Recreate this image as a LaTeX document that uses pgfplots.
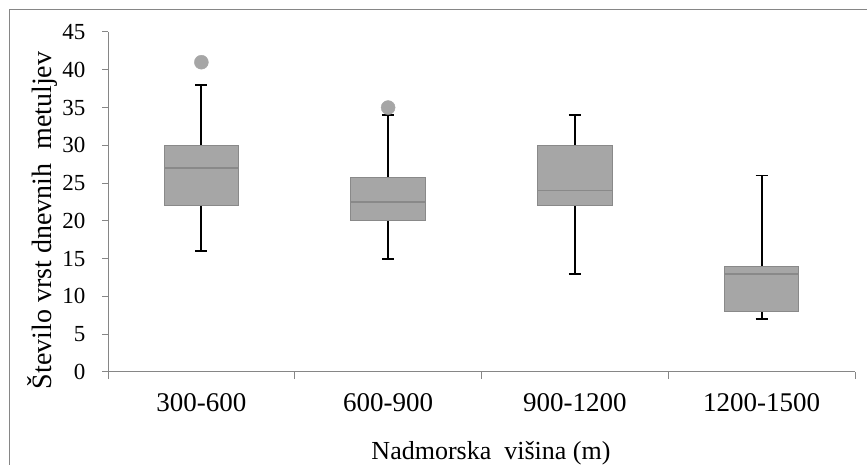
\documentclass[border=0pt]{standalone}
\usepackage{fontspec}
\setmainfont{Liberation Serif}
\usepackage{pgfplots}
\pgfplotsset{compat=1.18}
\usepgfplotslibrary{statistics}
\definecolor{boxfill}{RGB}{166,166,166}
\definecolor{boxedge}{RGB}{137,137,137}
\definecolor{axisgray}{RGB}{134,134,134}
\begin{document}
\begin{tikzpicture}[x=1pt,y=1pt]
\begin{axis}[
  at={(108pt,93pt)}, anchor=south west,
  scale only axis, width=747pt, height=340pt,
  xmin=0, xmax=4, ymin=0, ymax=45,
  axis lines*=left,
  axis line style={axisgray, line width=1pt},
  ytick={0,5,...,45},
  yticklabel={\pgfmathprintnumber{\tick}},
  xtick={0.5,1.5,2.5,3.5},
  xticklabels={300-600,600-900,900-1200,1200-1500},
  minor xtick={0,1,2,3,4},
  tick align=outside,
  major tick length=6pt, minor tick length=7pt,
  tick style={axisgray, line width=1pt},
  major x tick style={draw=none},
  /pgf/number format/assume math mode=true,
  yticklabel style={font=\fontsize{23}{26}\selectfont, xshift=-13pt},
  xticklabel style={font=\fontsize{27}{30}\selectfont, yshift=-12pt},
  xlabel={Nadmorska \ višina (m)},
  ylabel={Število vrst dnevnih \ metuljev},
  every axis x label/.style={at={(axis description cs:0.5127,-0.2588)}, anchor=base, font=\fontsize{26}{30}\selectfont},
  every axis y label/.style={at={(axis description cs:-0.0763,0.4456)}, anchor=base, rotate=90, font=\fontsize{28}{32}\selectfont},
  boxplot/draw direction=y,
  boxplot/every box/.style={fill=boxfill, draw=boxedge, line width=1pt},
  boxplot/every whisker/.style={black, line width=1.8pt},
  boxplot/every median/.style={boxedge, line width=1.6pt},
  clip=false,
]
\addplot[boxplot prepared={lower whisker=16, lower quartile=22, median=27, upper quartile=30, upper whisker=38, draw position=0.5, box extend=0.4, whisker extend=0.064},
  mark=*, mark size=7pt, mark options={fill=boxfill, draw=boxfill}] coordinates {(0,41)};
\addplot[boxplot prepared={lower whisker=15, lower quartile=20, median=22.5, upper quartile=25.75, upper whisker=34, draw position=1.5, box extend=0.4, whisker extend=0.064},
  mark=*, mark size=7pt, mark options={fill=boxfill, draw=boxfill}] coordinates {(0,35)};
\addplot[boxplot prepared={lower whisker=13, lower quartile=22, median=24, upper quartile=30, upper whisker=34, draw position=2.5, box extend=0.4, whisker extend=0.064}] coordinates {};
\addplot[boxplot prepared={lower whisker=7, lower quartile=8, median=13, upper quartile=14, upper whisker=26, draw position=3.5, box extend=0.4, whisker extend=0.064}] coordinates {};
\end{axis}
\draw[axisgray, line width=1pt] (9,-5) -- (9,455) -- (875,455);
\pgfresetboundingbox
\useasboundingbox (0,0) rectangle (867,465);
\end{tikzpicture}
\end{document}
